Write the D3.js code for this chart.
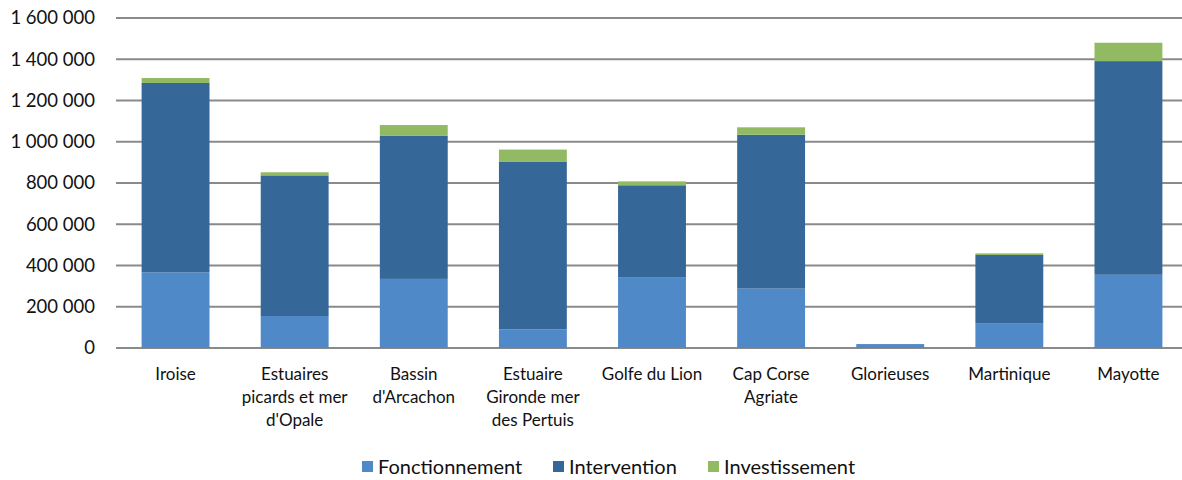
<!DOCTYPE html>
<html>
<head>
<meta charset="utf-8">
<script src="https://cdn.jsdelivr.net/npm/d3@7"></script>
<style>
  body { margin: 0; background: #fff; overflow: hidden; }
  svg { display: block; }
  text { font-family: Lato, "Open Sans", sans-serif; fill: #111; }
</style>
</head>
<body>
<div id="chart"></div>
<script>
const categories = [
  "Iroise",
  "Estuaires|picards et mer|d'Opale",
  "Bassin|d'Arcachon",
  "Estuaire|Gironde mer|des Pertuis",
  "Golfe du Lion",
  "Cap Corse|Agriate",
  "Glorieuses",
  "Martinique",
  "Mayotte"
];
const fonctionnement = [367000, 155000, 335000, 90000, 341000, 288000, 19000, 118000, 355000];
const intervention = [918000, 682000, 695000, 812000, 448000, 746000, 0, 333000, 1036000];
const investissement = [24000, 15000, 51000, 60000, 19000, 36000, 0, 8000, 89000];
const seriesNames = ["Fonctionnement", "Intervention", "Investissement"];
const colors = ["#4f89c8", "#366799", "#92ba62"];
const yTicks = [0, 200000, 400000, 600000, 800000, 1000000, 1200000, 1400000, 1600000];

const width = 1182, height = 480;
const margin = { top: 18, right: -6, bottom: 132, left: 116 };
const innerWidth = width - margin.left - margin.right;
const innerHeight = height - margin.top - margin.bottom;

const svg = d3.select("#chart").append("svg")
  .attr("width", width)
  .attr("height", height);

const g = svg.append("g")
  .attr("transform", `translate(${margin.left},${margin.top})`);

const rows = categories.map((c, i) => ({
  cat: c,
  Fonctionnement: fonctionnement[i],
  Intervention: intervention[i],
  Investissement: investissement[i]
}));

const stack = d3.stack().keys(seriesNames)(rows);

const x = d3.scaleBand()
  .domain(categories)
  .range([0, innerWidth])
  .paddingInner(0.43)
  .paddingOuter(0.215);

const y = d3.scaleLinear()
  .domain([0, 1600000])
  .range([innerHeight, 0]);

const fmt = v => d3.format(",")(v).replace(/,/g, " ");

// gridlines
g.append("g")
  .selectAll("line")
  .data(yTicks)
  .join("line")
  .attr("x1", 0)
  .attr("x2", width - margin.left)
  .attr("y1", d => y(d))
  .attr("y2", d => y(d))
  .attr("stroke", "#8a8a8a")
  .attr("stroke-width", 2);

// y labels
g.append("g")
  .selectAll("text")
  .data(yTicks)
  .join("text")
  .attr("x", -21)
  .attr("y", d => y(d))
  .attr("dy", "0.35em")
  .attr("text-anchor", "end")
  .attr("font-size", 18.5)
  .text(d => fmt(d));

// bars
g.selectAll(".layer")
  .data(stack)
  .join("g")
  .attr("class", "layer")
  .attr("fill", (d, i) => colors[i])
  .selectAll("rect")
  .data(d => d)
  .join("rect")
  .attr("x", d => x(d.data.cat))
  .attr("width", x.bandwidth())
  .attr("y", d => y(d[1]))
  .attr("height", d => y(d[0]) - y(d[1]));

// x labels
const xl = g.append("g")
  .selectAll("text")
  .data(categories)
  .join("text")
  .attr("x", d => x(d) + x.bandwidth() / 2)
  .attr("y", innerHeight + 32)
  .attr("text-anchor", "middle")
  .attr("font-size", 17);

xl.selectAll("tspan")
  .data(d => d.split("|"))
  .join("tspan")
  .attr("x", function () { return d3.select(this.parentNode).attr("x"); })
  .attr("dy", (d, i) => i === 0 ? 0 : 23)
  .text(d => d);

// legend
const legendX = [362, 553, 708];
const legend = svg.append("g")
  .selectAll("g")
  .data(seriesNames)
  .join("g")
  .attr("transform", (d, i) => `translate(${legendX[i]},467)`);

legend.append("rect")
  .attr("x", 0)
  .attr("y", -6)
  .attr("width", 11)
  .attr("height", 11)
  .attr("fill", (d, i) => colors[i]);

legend.append("text")
  .attr("x", 16)
  .attr("y", 0)
  .attr("dy", "0.35em")
  .attr("font-size", 20)
  .text(d => d);
</script>
</body>
</html>
